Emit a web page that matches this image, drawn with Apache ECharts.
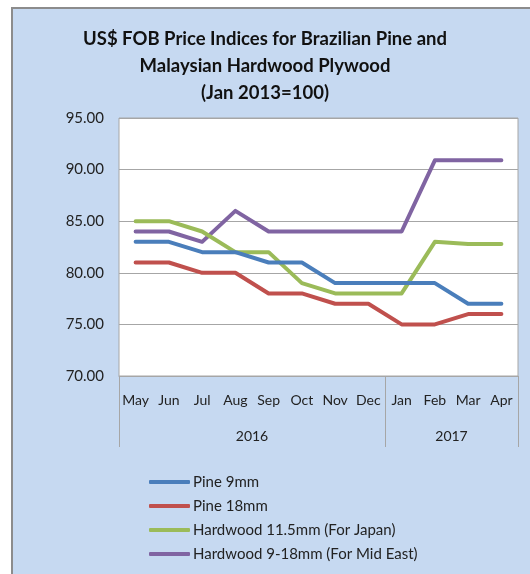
<!DOCTYPE html>
<html>
<head>
<meta charset="utf-8">
<script src="https://cdn.jsdelivr.net/npm/echarts@6/dist/echarts.min.js"></script>
<style>
  html, body { margin: 0; padding: 0; background: #fff; }
  #chart { width: 530px; height: 574px; }
</style>
</head>
<body>
<div id="chart"></div>
<script>
// data
var months = ['May', 'Jun', 'Jul', 'Aug', 'Sep', 'Oct', 'Nov', 'Dec', 'Jan', 'Feb', 'Mar', 'Apr'];
var years = ['2016', '2017'];
var yearSpans = [8, 4];   // months in each year group

var pine9 = [83, 83, 82, 82, 81, 81, 79, 79, 79, 79, 77, 77];
var pine18 = [81, 81, 80, 80, 78, 78, 77, 77, 75, 75, 76, 76];
var hard115 = [85, 85, 84, 82, 82, 79, 78, 78, 78, 83, 82.8, 82.8];
var hard918 = [84, 84, 83, 86, 84, 84, 84, 84, 84, 90.9, 90.9, 90.9];

var seriesNames = ['Pine 9mm', 'Pine 18mm', 'Hardwood 11.5mm (For Japan)', 'Hardwood 9-18mm (For Mid East)'];
var seriesColors = ['#4a7ebb', '#c0504d', '#9bbb59', '#8064a2'];
var seriesValues = [pine9, pine18, hard115, hard918];

// group boundaries and centres for the year level of the axis
var yearTicks = [0];
var yearCentres = [];
var acc = 0;
for (var i = 0; i < yearSpans.length; i++) {
    yearCentres.push(acc + yearSpans[i] / 2);
    acc += yearSpans[i];
    yearTicks.push(acc);
}

var FONT = 'Lato';

var series = [];
for (var i = 0; i < seriesNames.length; i++) {
    series.push({
        name: seriesNames[i],
        type: 'line',
        xAxisIndex: 0,
        data: seriesValues[i],
        symbol: 'none',
        smooth: false,
        lineStyle: { width: 4, color: seriesColors[i], cap: 'round', join: 'round' },
        itemStyle: { color: seriesColors[i] },
        z: 10 - i
    });
}

var chart = echarts.init(document.getElementById('chart'));
var option = {
    backgroundColor: '#ffffff',
    animation: false,
    graphic: [
        {
            type: 'rect',
            z: -100,
            shape: { x: 12, y: 8, width: 540, height: 590 },
            style: { fill: '#c6d9f1', stroke: '#8c8c8c', lineWidth: 2 }
        }
    ],
    title: {
        text: 'US$ FOB Price Indices for Brazilian Pine and\nMalaysian Hardwood Plywood\n(Jan 2013=100)',
        left: 'center',
        top: 26,
        padding: [0, 0, 0, 12],
        textStyle: {
            fontFamily: FONT,
            fontWeight: 'bold',
            fontSize: 18.5,
            lineHeight: 27,
            color: '#111'
        }
    },
    legend: {
        orient: 'vertical',
        left: 144,
        top: 468,
        icon: 'roundRect',
        itemWidth: 41,
        itemHeight: 4,
        itemGap: 6,
        data: seriesNames,
        textStyle: {
            fontFamily: FONT,
            fontSize: 15,
            lineHeight: 18,
            color: '#222',
            padding: [0, 0, 0, -2]
        }
    },
    grid: {
        left: 119,
        top: 118,
        width: 399,
        height: 258,
        show: true,
        backgroundColor: '#ffffff',
        borderColor: '#a6a6a6',
        borderWidth: 1,
        containLabel: false
    },
    xAxis: [
        {
            type: 'category',
            data: months,
            boundaryGap: true,
            axisLine: { show: true, lineStyle: { color: '#a6a6a6', width: 1 } },
            axisTick: { show: false },
            axisLabel: {
                interval: 0,
                margin: 17,
                fontFamily: FONT,
                fontSize: 14,
                color: '#222'
            },
            splitLine: { show: false }
        },
        {
            type: 'value',
            position: 'bottom',
            min: 0,
            max: months.length,
            axisLine: { show: false },
            splitLine: { show: false },
            axisTick: {
                show: true,
                customValues: yearTicks,
                length: 71,
                lineStyle: { color: '#a6a6a6', width: 1 }
            },
            axisLabel: {
                show: true,
                customValues: yearCentres,
                margin: 53,
                fontFamily: FONT,
                fontSize: 14,
                color: '#222',
                formatter: function (v) {
                    for (var k = 0; k < yearCentres.length; k++) {
                        if (Math.abs(v - yearCentres[k]) < 1e-6) return years[k];
                    }
                    return '';
                }
            }
        }
    ],
    yAxis: {
        type: 'value',
        min: 70,
        max: 95,
        interval: 5,
        axisLine: { show: false },
        axisTick: { show: false },
        axisLabel: {
            margin: 15,
            fontFamily: FONT,
            fontSize: 15,
            color: '#222',
            formatter: function (v) { return v.toFixed(2); }
        },
        splitLine: { show: true, lineStyle: { color: '#a6a6a6', width: 1 } }
    },
    series: series
};
chart.setOption(option);
</script>
</body>
</html>
